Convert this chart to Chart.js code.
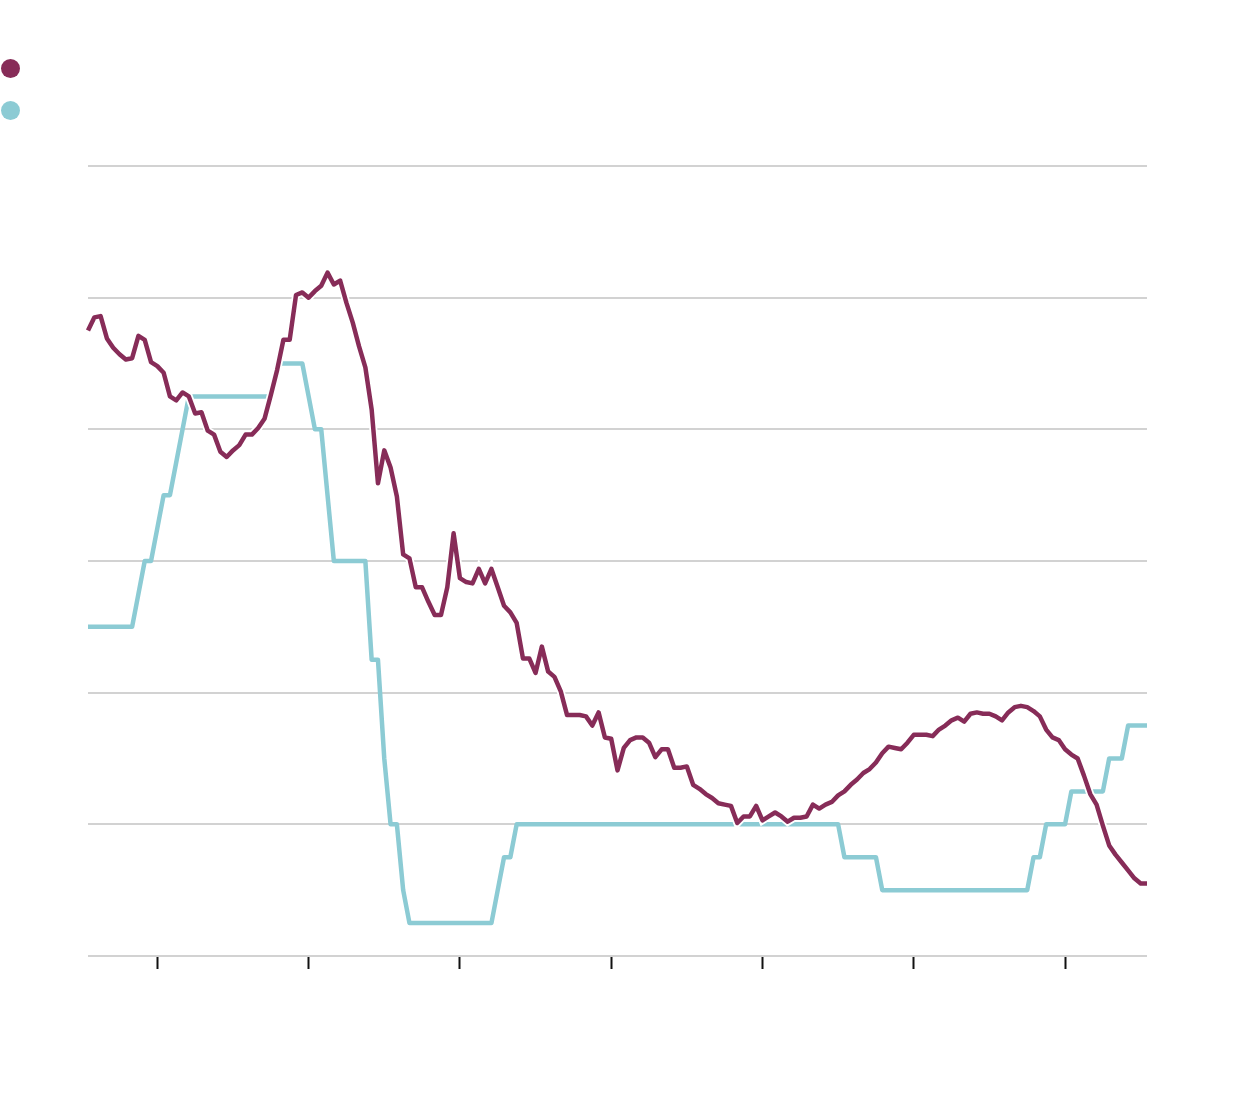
<!DOCTYPE html>
<html>
<head>
<meta charset="utf-8">
<script src="https://cdn.jsdelivr.net/npm/chart.js@4/dist/chart.umd.min.js"></script>
<style>
    body { margin: 0; background: #fff; font-family: "Noto Sans", sans-serif; }
    #wrap { position: relative; width: 1240px; height: 1096px; }
    .dot { position: absolute; left: 1px; width: 19px; height: 19px; border-radius: 50%; }
</style>
</head>
<body>
<div id="wrap">
    <!-- legend markers -->
    <span class="dot" style="top:59px;background:#872c58"></span>
    <span class="dot" style="top:101px;background:#8ccbd4"></span>
    <canvas id="rateChart" width="1240" height="1096"></canvas>
</div>

<script>
    // monthly, Feb 2005 .. Feb 2019
    const startYear = 2005, startMonth = 1;
    const monthNames = ['Jan', 'Feb', 'Mar', 'Apr', 'May', 'Jun', 'Jul', 'Aug', 'Sep', 'Oct', 'Nov', 'Dec'];
    const months = [];
    for (let i = 0; i <= 168; i++) {
        const m = startMonth + i;
        months.push(monthNames[m % 12] + ' ' + (startYear + Math.floor(m / 12)));
    }

    // x ticks: every January of even years
    const tickMonths = ['Jan 2006', 'Jan 2008', 'Jan 2010', 'Jan 2012', 'Jan 2014', 'Jan 2016', 'Jan 2018'];
    const yTicks = [0, 1, 2, 3, 4, 5, 6];

    const purpleValues = [
        4.75, 4.85, 4.86, 4.69, 4.62, 4.57, 4.53, 4.54, 4.71, 4.68,
        4.51, 4.48, 4.43, 4.25, 4.22, 4.28, 4.25, 4.12, 4.13, 3.99,
        3.96, 3.83, 3.79, 3.84, 3.88, 3.96, 3.96, 4.01, 4.08, 4.26,
        4.45, 4.68, 4.68, 5.02, 5.04, 5.00, 5.05, 5.09, 5.19, 5.10,
        5.13, 4.96, 4.81, 4.63, 4.47, 4.15, 3.59, 3.84, 3.71, 3.49,
        3.05, 3.02, 2.80, 2.80, 2.69, 2.59, 2.59, 2.80, 3.21, 2.87,
        2.84, 2.83, 2.94, 2.83, 2.94, 2.80, 2.66, 2.61, 2.53, 2.26,
        2.26, 2.15, 2.35, 2.16, 2.12, 2.01, 1.83, 1.83, 1.83, 1.82,
        1.75, 1.85, 1.66, 1.65, 1.41, 1.58, 1.64, 1.66, 1.66, 1.62,
        1.51, 1.57, 1.57, 1.43, 1.43, 1.44, 1.30, 1.27, 1.23, 1.20,
        1.16, 1.15, 1.14, 1.01, 1.06, 1.06, 1.14, 1.03, 1.06, 1.09,
        1.06, 1.02, 1.05, 1.05, 1.06, 1.15, 1.12, 1.15, 1.17, 1.22,
        1.25, 1.30, 1.34, 1.39, 1.42, 1.47, 1.54, 1.59, 1.58, 1.57,
        1.62, 1.68, 1.68, 1.68, 1.67, 1.72, 1.75, 1.79, 1.81, 1.78,
        1.84, 1.85, 1.84, 1.84, 1.82, 1.79, 1.85, 1.89, 1.90, 1.89,
        1.86, 1.82, 1.72, 1.66, 1.64, 1.57, 1.53, 1.50, 1.37, 1.23,
        1.15, 0.99, 0.84, 0.77, 0.71, 0.65, 0.59, 0.55, 0.55
    ];

    const tealValues = [
        2.5, 2.5, 2.5, 2.5, 2.5, 2.5, 2.5, 2.5, 2.75, 3.0,
        3.0, 3.25, 3.5, 3.5, 3.75, 4.0, 4.25, 4.25, 4.25, 4.25,
        4.25, 4.25, 4.25, 4.25, 4.25, 4.25, 4.25, 4.25, 4.25, 4.25,
        4.5, 4.5, 4.5, 4.5, 4.5, 4.25, 4.0, 4.0, 3.5, 3.0,
        3.0, 3.0, 3.0, 3.0, 3.0, 2.25, 2.25, 1.5, 1.0, 1.0,
        0.5, 0.25, 0.25, 0.25, 0.25, 0.25, 0.25, 0.25, 0.25, 0.25,
        0.25, 0.25, 0.25, 0.25, 0.25, 0.5, 0.75, 0.75, 1.0, 1.0,
        1.0, 1.0, 1.0, 1.0, 1.0, 1.0, 1.0, 1.0, 1.0, 1.0,
        1.0, 1.0, 1.0, 1.0, 1.0, 1.0, 1.0, 1.0, 1.0, 1.0,
        1.0, 1.0, 1.0, 1.0, 1.0, 1.0, 1.0, 1.0, 1.0, 1.0,
        1.0, 1.0, 1.0, 1.0, 1.0, 1.0, 1.0, 1.0, 1.0, 1.0,
        1.0, 1.0, 1.0, 1.0, 1.0, 1.0, 1.0, 1.0, 1.0, 1.0,
        0.75, 0.75, 0.75, 0.75, 0.75, 0.75, 0.5, 0.5, 0.5, 0.5,
        0.5, 0.5, 0.5, 0.5, 0.5, 0.5, 0.5, 0.5, 0.5, 0.5,
        0.5, 0.5, 0.5, 0.5, 0.5, 0.5, 0.5, 0.5, 0.5, 0.5,
        0.75, 0.75, 1.0, 1.0, 1.0, 1.0, 1.25, 1.25, 1.25, 1.25,
        1.25, 1.25, 1.5, 1.5, 1.5, 1.75, 1.75, 1.75, 1.75
    ];

    const purple = '#872c58';
    const teal = '#8ccbd4';

    new Chart(document.getElementById('rateChart'), {
        type: 'line',
        data: {
            labels: months,
            datasets: [
                {
                    data: purpleValues,
                    borderColor: purple,
                    borderWidth: 4.5,
                    pointRadius: 0,
                    tension: 0,
                    borderJoinStyle: 'round'
                },
                {
                    // white halo under the purple line
                    data: purpleValues,
                    borderColor: '#ffffff',
                    borderWidth: 8,
                    pointRadius: 0,
                    tension: 0
                },
                {
                    data: tealValues,
                    borderColor: teal,
                    borderWidth: 4.5,
                    pointRadius: 0,
                    tension: 0,
                    borderJoinStyle: 'round'
                }
            ]
        },
        options: {
            responsive: false,
            animation: false,
            events: [],
            layout: { padding: { left: 88, right: 93, top: 166, bottom: 127 } },
            plugins: { legend: { display: false }, tooltip: { enabled: false } },
            scales: {
                x: {
                    type: 'category',
                    offset: false,
                    afterBuildTicks: scale => {
                        scale.ticks = scale.ticks.filter(t => tickMonths.includes(months[t.value]));
                    },
                    ticks: { display: false, autoSkip: false },
                    grid: {
                        drawOnChartArea: false,
                        drawTicks: true,
                        tickLength: 13,
                        tickWidth: 2,
                        tickColor: '#111111'
                    },
                    border: { display: false }
                },
                y: {
                    min: 0,
                    max: 6,
                    afterBuildTicks: scale => {
                        scale.ticks = yTicks.map(v => ({ value: v }));
                    },
                    ticks: { display: false },
                    grid: { color: '#d2d2d2', lineWidth: 2, drawTicks: false },
                    border: { display: false }
                }
            }
        }
    });
</script>
</body>
</html>
